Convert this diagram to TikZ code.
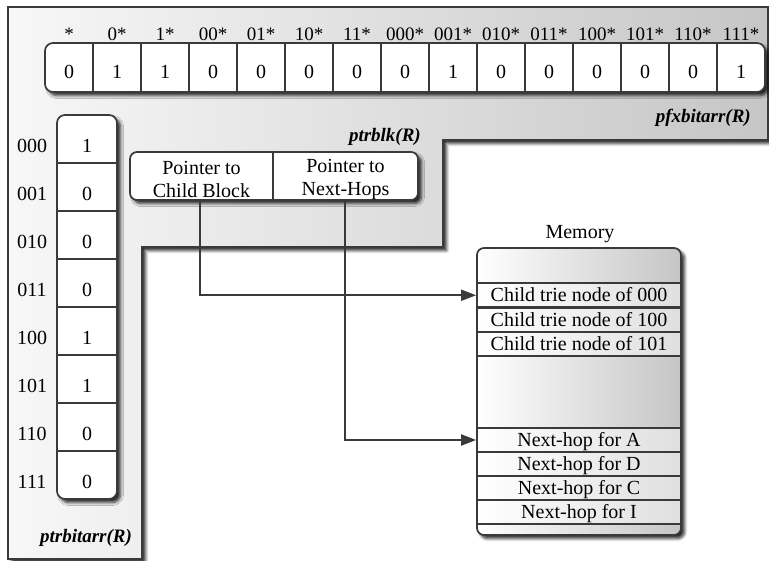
\documentclass[tikz,border=0pt]{standalone}
\usepackage{fontspec}
\setmainfont{Liberation Serif}
\usetikzlibrary{shadows,shadows.blur,arrows.meta}
\definecolor{edge}{HTML}{3A3A3A}
\tikzset{
  frame/.style={draw=edge, line width=1.7pt},
  shad/.style={blur shadow={shadow xshift=3.5pt,shadow yshift=-3.5pt,shadow opacity=85,shadow blur steps=6,shadow blur radius=3pt}},
  txt/.style={inner sep=0pt, font=\fontsize{20}{23}\selectfont},
  capt/.style={txt, text height=13pt, text depth=0pt},
  lbl/.style={inner sep=0pt, font=\fontsize{19}{20}\selectfont, text height=12.5pt, text depth=0pt},
  ital/.style={inner sep=0pt, font=\fontsize{19}{21}\selectfont\bfseries\itshape},
  conn/.style={draw=edge, line width=1.8pt},
  arr/.style={conn, -{Triangle[length=15pt,width=11pt]}},
  memrow/.style={capt, draw=edge, line width=1.7pt, left color=white, right color=gray!25,
    minimum width=204pt, minimum height=24pt, anchor=center},
}
\begin{document}
\begin{tikzpicture}[x=1pt,y=-1pt]
\useasboundingbox (0,0) rectangle (769,561);
% L-shaped background
\path[frame, left color=gray!6, right color=gray!45, shad]
  (8,7) -- (768,7) -- (768,140) -- (443,140) -- (443,247) -- (142,247) -- (142,559) -- (8,559) -- cycle;
% top bit array
\path[frame, fill=white, rounded corners=8pt, shad] (45,43) rectangle (765,92);
\foreach \k in {1,...,14} \draw[frame] ({45+48*\k},43) -- ({45+48*\k},92);
\foreach \v/\l [count=\i from 0] in {0/*,1/0*,1/1*,0/00*,0/01*,0/10*,0/11*,0/000*,1/001*,0/010*,0/011*,0/100*,0/101*,0/110*,1/111*}{
  \node[capt] (pv\i) at ({69+48*\i},72.5) {\v};
  \node[lbl] (pl\i) at ({69+48*\i},34) {\l};
}
\node[ital, anchor=east] (pfx) at (751,118) {pfxbitarr(R)};
% left bit array
\path[frame, fill=white, rounded corners=8pt, shad] (57,115) rectangle (117,499);
\foreach \k in {1,...,7} \draw[frame] (57,{115+48*\k}) -- (117,{115+48*\k});
\foreach \v/\l [count=\i from 0] in {1/000,0/001,0/010,0/011,1/100,1/101,0/110,0/111}{
  \node[capt] (rv\i) at (87,{146+48*\i}) {\v};
  \node[capt] (rl\i) at (32,{146+48*\i}) {\l};
}
\node[ital] (pbit) at (86,538) {ptrbitarr(R)};
% pointer block
\node[ital, anchor=east] (pblk) at (421,137) {ptrblk(R)};
\path[frame, fill=white, rounded corners=7pt, shad] (130,152) rectangle (418,200);
\draw[frame] (273,152) -- (273,200);
\node[txt, align=center] (cb) at (201.5,179.5) {Pointer to\\Child Block};
\node[txt, align=center] (nh) at (345.5,179.5) {Pointer to\\Next-Hops};
\coordinate (cbb) at (200,200);
\coordinate (nhb) at (345,200);
% memory
\node[txt] (memlbl) at (580,234) {Memory};
\path[frame, left color=white, right color=gray!45, rounded corners=7pt, shad] (477,248) rectangle (681,535);
\node[memrow] (m1) at (579,295.25) {Child trie node of 000};
\node[memrow] (m2) at (579,319.75) {Child trie node of 100};
\node[memrow] (m3) at (579,344.25) {Child trie node of 101};
\node[memrow] (n1) at (579,440) {Next-hop for A};
\node[memrow] (n2) at (579,464) {Next-hop for D};
\node[memrow] (n3) at (579,488) {Next-hop for C};
\node[memrow] (n4) at (579,512) {Next-hop for I};
% connectors
\draw[arr] (cbb) |- (m1.west);
\draw[arr] (nhb) |- (n1.west);
\end{tikzpicture}
\end{document}
